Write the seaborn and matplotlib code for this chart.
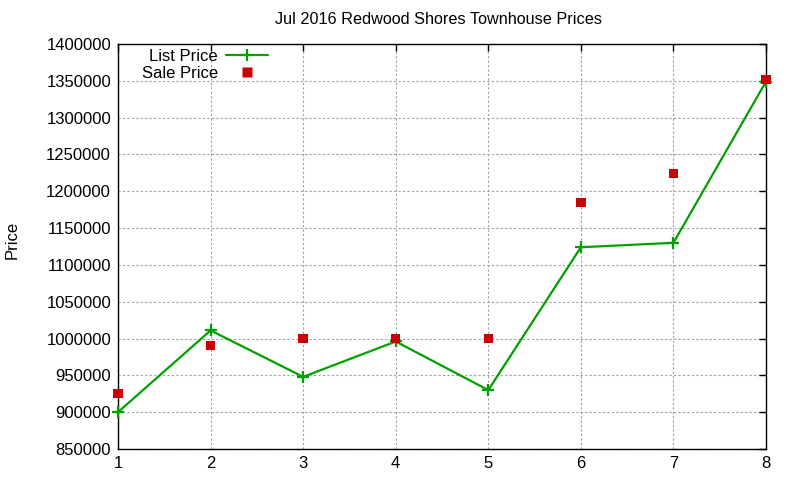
import matplotlib
matplotlib.use("Agg")
import matplotlib.pyplot as plt
from matplotlib.lines import Line2D
import seaborn as sns
import pandas as pd

x_vals = [1, 2, 3, 4, 5, 6, 7, 8]
list_price = [900000, 1011000, 948000, 996000, 930000, 1124000, 1130000, 1349000]
sale_price = [925000, 991000, 1000000, 1000000, 1000000, 1185000, 1224000, 1352000]
y_ticks = list(range(850000, 1400001, 50000))

sns.set_theme(style="white")
plt.rcParams['font.family'] = ['Liberation Sans', 'DejaVu Sans']
plt.rcParams['text.color'] = 'black'

GREEN = "#00a000"
RED = "#cc0000"
FS = 12

df = pd.DataFrame({"x": x_vals, "list": list_price, "sale": sale_price})

fig = plt.figure(figsize=(8, 4.8), dpi=100)
ax = fig.add_axes([118/800, 1-449/480, (766-118)/800, (449-44)/480])

sns.lineplot(data=df, x="x", y="list", ax=ax, color=GREEN, lw=1.6,
             marker="+", markersize=9, markeredgewidth=1.6,
             markeredgecolor=GREEN, legend=False, clip_on=False, zorder=4)
sns.scatterplot(data=df, x="x", y="sale", ax=ax, color=RED, marker="s",
                s=45, edgecolor="none", legend=False, zorder=5, clip_on=False)

ax.set_xlim(1, 8)
ax.set_ylim(850000, 1400000)
ax.set_xticks(x_vals)
ax.set_yticks(y_ticks)
ax.set_yticklabels([str(v) for v in y_ticks])
ax.tick_params(direction="in", length=5, width=1, top=True, right=True,
               labelsize=FS, colors="black", pad=5)
for s in ax.spines.values():
    s.set_color("black")
    s.set_linewidth(1)
    s.set_zorder(3)
ax.grid(True, color="#a0a0a0", linestyle=(0, (2, 2)), lw=0.8)
ax.set_xlabel("")
ax.set_ylabel("")
fig.text(12/800, 0.5, "Price", rotation=90, ha="center", va="center",
         fontsize=FS, color="black")
fig.text(439/800, 1-20/480, "Jul 2016 Redwood Shores Townhouse Prices",
         ha="center", va="center", fontsize=11.7, color="black")

handles = [
    Line2D([], [], color=GREEN, lw=1.6, marker="+", markersize=9,
           markeredgewidth=1.6),
    Line2D([], [], color=RED, lw=0, marker="s", markersize=6.7,
           markeredgecolor="none"),
]
ax.legend(handles, ["List Price", "Sale Price"], loc="upper right",
          bbox_to_anchor=((268-118)/648, 1-5/405), frameon=False,
          markerfirst=False, fontsize=FS, handlelength=2.5,
          handletextpad=0.5, labelspacing=0.12, borderpad=0,
          borderaxespad=0, labelcolor="black")

fig.savefig("out.png", dpi=100)
